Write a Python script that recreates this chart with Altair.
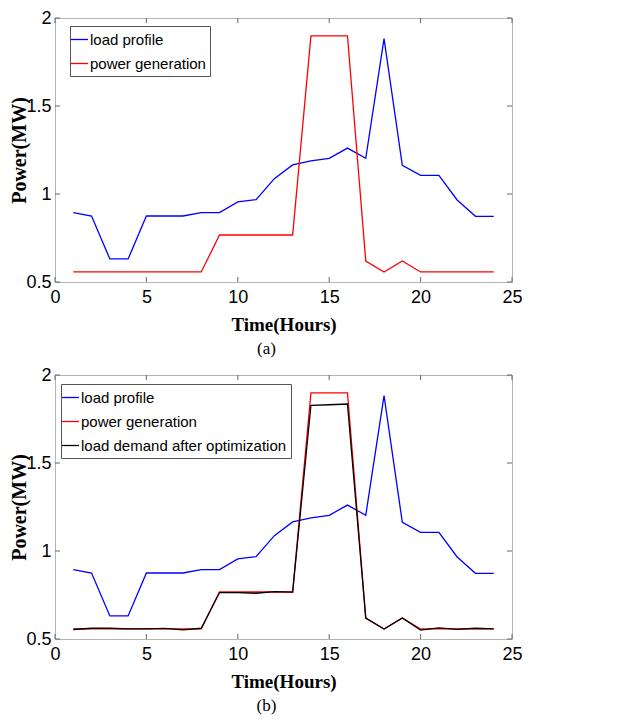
import altair as alt
import pandas as pd

hours = [1, 2, 3, 4, 5, 6, 7, 8, 9, 10, 11, 12, 13, 14, 15, 16, 17, 18, 19, 20, 21, 22, 23, 24]
load_profile = [0.894, 0.875, 0.631, 0.631, 0.875, 0.875, 0.875, 0.894, 0.894, 0.955, 0.968, 1.087,
                1.165, 1.188, 1.203, 1.261, 1.203, 1.883, 1.163, 1.106, 1.106, 0.966, 0.873, 0.873]
power_generation = [0.557, 0.557, 0.557, 0.557, 0.557, 0.557, 0.557, 0.557, 0.767, 0.767, 0.767, 0.767,
                    0.767, 1.898, 1.898, 1.898, 0.619, 0.557, 0.619, 0.557, 0.557, 0.557, 0.557, 0.557]
load_after_opt = [0.554, 0.561, 0.561, 0.558, 0.558, 0.560, 0.552, 0.561, 0.764, 0.763, 0.760, 0.769,
                  0.766, 1.828, 1.831, 1.835, 0.619, 0.557, 0.619, 0.551, 0.563, 0.555, 0.561, 0.558]

x_ticks = [0, 5, 10, 15, 20, 25]
y_ticks = [0.5, 1.0, 1.5, 2.0]
names = ["load profile", "power generation", "load demand after optimization"]
colors = ["#0000ff", "#ff0000", "#000000"]

W, H = 457, 264
TICK = 5


def panel(series, caption, lx, ly):
    rows = []
    for name, vals in series:
        for h, v in zip(hours, vals):
            rows.append({"hour": h, "power": v, "series": name})
    df = pd.DataFrame(rows)
    dom = [s[0] for s in series]
    rng = [colors[names.index(n)] for n in dom]

    xscale = alt.Scale(domain=[0, 25], nice=False, zero=False)
    yscale = alt.Scale(domain=[0.5, 2], nice=False, zero=False)
    xaxis = alt.Axis(values=x_ticks, format="d", ticks=False, domain=False, grid=False,
                     labelFont="Liberation Sans", labelFontSize=18, labelColor="black",
                     labelPadding=6, labelFlush=False,
                     title="Time(Hours)", titleFont="Liberation Serif", titleFontSize=19,
                     titleFontWeight="bold", titleColor="black", titlePadding=9)
    yaxis = alt.Axis(values=y_ticks, format="~g", ticks=False, domain=False, grid=False,
                     labelFont="Liberation Sans", labelFontSize=18, labelColor="black",
                     labelPadding=4, labelFlush=False,
                     title="Power(MW)", titleFont="Liberation Serif", titleFontSize=20,
                     titleFontWeight="bold", titleColor="black",
                     titleX=-30, titleY=H / 2, titleBaseline="alphabetic", titleAngle=270)
    cscale = alt.Scale(domain=dom, range=rng)
    legend = alt.Legend(title=None, orient="none", legendX=lx, legendY=ly,
                        symbolType="stroke", symbolSize=289, symbolStrokeWidth=1.3,
                        labelFont="Liberation Sans", labelFontSize=15, labelColor="black",
                        labelOffset=1, padding=4, rowPadding=6, strokeColor="#555555",
                        fillColor="white", labelLimit=400, symbolOffset=-4)

    layers = []
    for name in dom:
        layers.append(
            alt.Chart(df).transform_filter(alt.datum.series == name)
            .mark_line(strokeWidth=1.3)
            .encode(x=alt.X("hour:Q", scale=xscale, axis=xaxis),
                    y=alt.Y("power:Q", scale=yscale, axis=yaxis),
                    color=alt.Color("series:N", scale=cscale, legend=legend))
        )

    xt = pd.DataFrame({"t": x_ticks})
    yt = pd.DataFrame({"v": y_ticks})
    tick_color = "#666666"
    xtop = alt.Chart(xt).mark_rule(color=tick_color, strokeWidth=1).encode(
        x=alt.X("t:Q", scale=xscale, axis=xaxis), y=alt.value(0), y2=alt.value(TICK))
    xbot = alt.Chart(xt).mark_rule(color=tick_color, strokeWidth=1).encode(
        x=alt.X("t:Q", scale=xscale, axis=xaxis), y=alt.value(H), y2=alt.value(H - TICK))
    yl = alt.Chart(yt).mark_rule(color=tick_color, strokeWidth=1).encode(
        y=alt.Y("v:Q", scale=yscale, axis=yaxis), x=alt.value(0), x2=alt.value(TICK))
    yr = alt.Chart(yt).mark_rule(color=tick_color, strokeWidth=1).encode(
        y=alt.Y("v:Q", scale=yscale, axis=yaxis), x=alt.value(W), x2=alt.value(W - TICK))

    return alt.layer(*layers, xtop, xbot, yl, yr).properties(
        width=W, height=H,
        title=alt.TitleParams(text=caption, orient="bottom", anchor="middle", font="Liberation Serif",
                              fontSize=17, fontWeight="normal", color="black", dx=-17, offset=7))


top = panel([("load profile", load_profile), ("power generation", power_generation)], "(a)", 15, 8)
bottom = panel([("load profile", load_profile), ("power generation", power_generation),
                ("load demand after optimization", load_after_opt)], "(b)", 6, 9)

chart = alt.vconcat(top, bottom, spacing=7).resolve_scale(color="independent").resolve_legend(
    color="independent").configure_view(stroke="#b4b4b4", strokeWidth=1).properties(
    padding={"left": 0, "top": 0, "right": 0, "bottom": 0}, background="white")

chart.save("out.html", embed_options={"renderer": "svg", "actions": False})
